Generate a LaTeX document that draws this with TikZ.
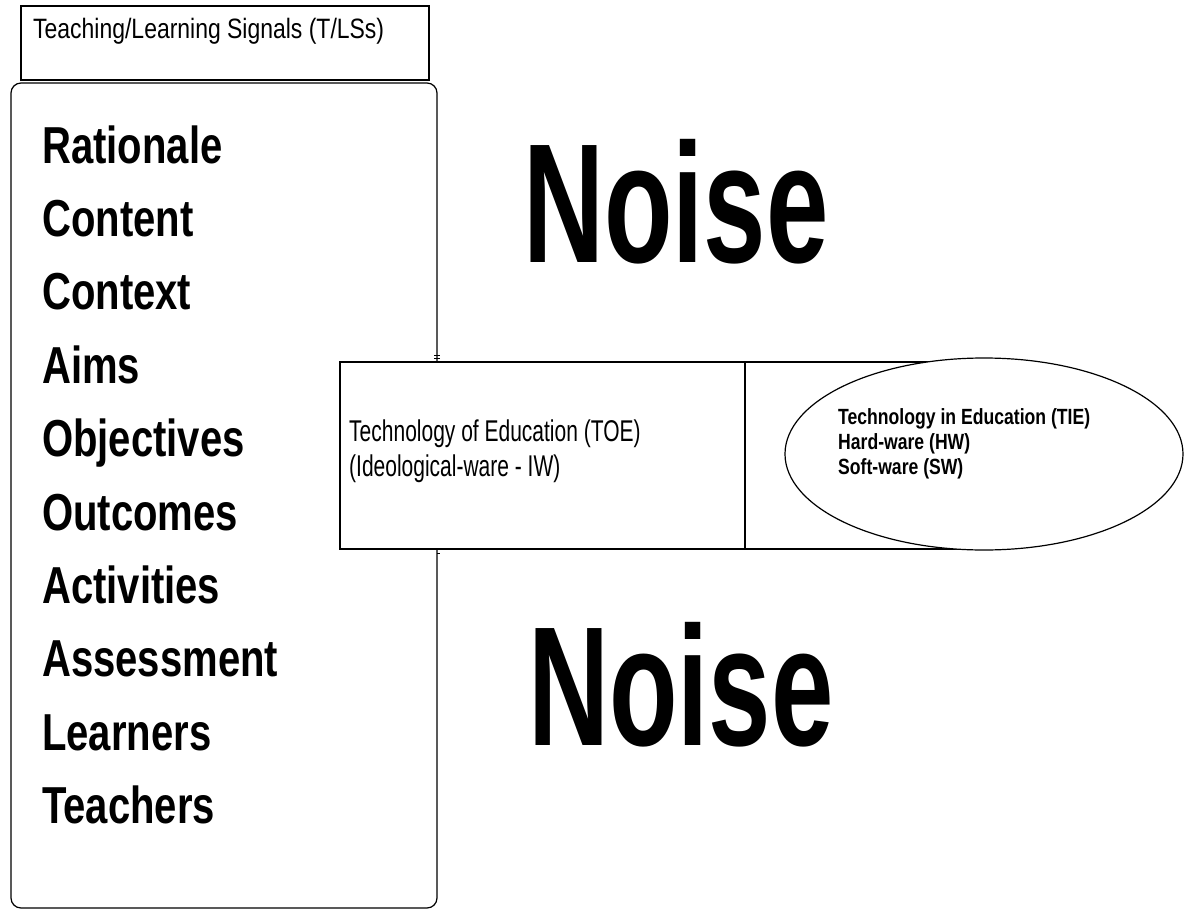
\documentclass[tikz,border=0pt]{standalone}
\usepackage{fontspec}
\setmainfont{Liberation Sans}
\newfontfamily\titlefont{Liberation Sans}[FakeStretch=0.82]
\newfontfamily\midfont{Liberation Sans}[FakeStretch=0.7]
\newfontfamily\ellfont{Liberation Sans}[FakeStretch=0.8]
\newfontfamily\listfont{Liberation Sans}[FakeStretch=0.77]
\newfontfamily\noisefont{Liberation Sans}[FakeStretch=0.66]
\tikzset{
  x=1pt, y=-1pt,
  frame/.style={draw=black, line width=1.2pt},
  item/.style={anchor=base west, inner sep=0pt, font=\listfont\bfseries\fontsize{52}{52}\selectfont},
  noise/.style={anchor=base west, inner sep=0pt, font=\noisefont\bfseries\fontsize{170}{170}\selectfont},
}
\begin{document}
\begin{tikzpicture}
\useasboundingbox[fill=white] (0,0) rectangle (1184,910);
% title box
\draw[frame] (21,6) rectangle (429,80);
\node[anchor=base west, inner sep=0pt, font=\titlefont\fontsize{28}{28}\selectfont] (title) at (33,38) {Teaching/Learning Signals (T/LSs)};
% list box
\draw[frame, rounded corners=10pt] (11,83) rectangle (437,908);
\foreach \t [count=\i from 0] in {Rationale,Content,Context,Aims,Objectives,Outcomes,Activities,Assessment,Learners,Teachers}
  \node[item] (item\i) at (42,163+73.4*\i) {\t};
% ticks on the list box edge
\draw[line width=1pt] (434,355) -- (440,355) (434,358) -- (440,358);
\draw[line width=1pt] (437,553) -- (440,553);
% middle rectangle
\draw[frame, fill=white] (340,362) rectangle (1000,549);
\draw[frame] (745,362) -- (745,549);
% ellipse
\draw[frame, fill=white] (984,454) ellipse [x radius=199, y radius=96];
% texts
\node[anchor=base west, inner sep=0pt, align=left, font=\midfont\fontsize{30}{35}\selectfont] (toe) at (349,476) {Technology of Education (TOE)\\(Ideological-ware - IW)};
\node[anchor=base west, inner sep=0pt, align=left, font=\ellfont\bfseries\fontsize{22}{25}\selectfont] (tie) at (838,474) {Technology in Education (TIE)\\Hard-ware (HW)\\Soft-ware (SW)};
\node[noise] (noise1) at (523,262) {Noise};
\node[noise] (noise2) at (528,745) {Noise};
\end{tikzpicture}
\end{document}
